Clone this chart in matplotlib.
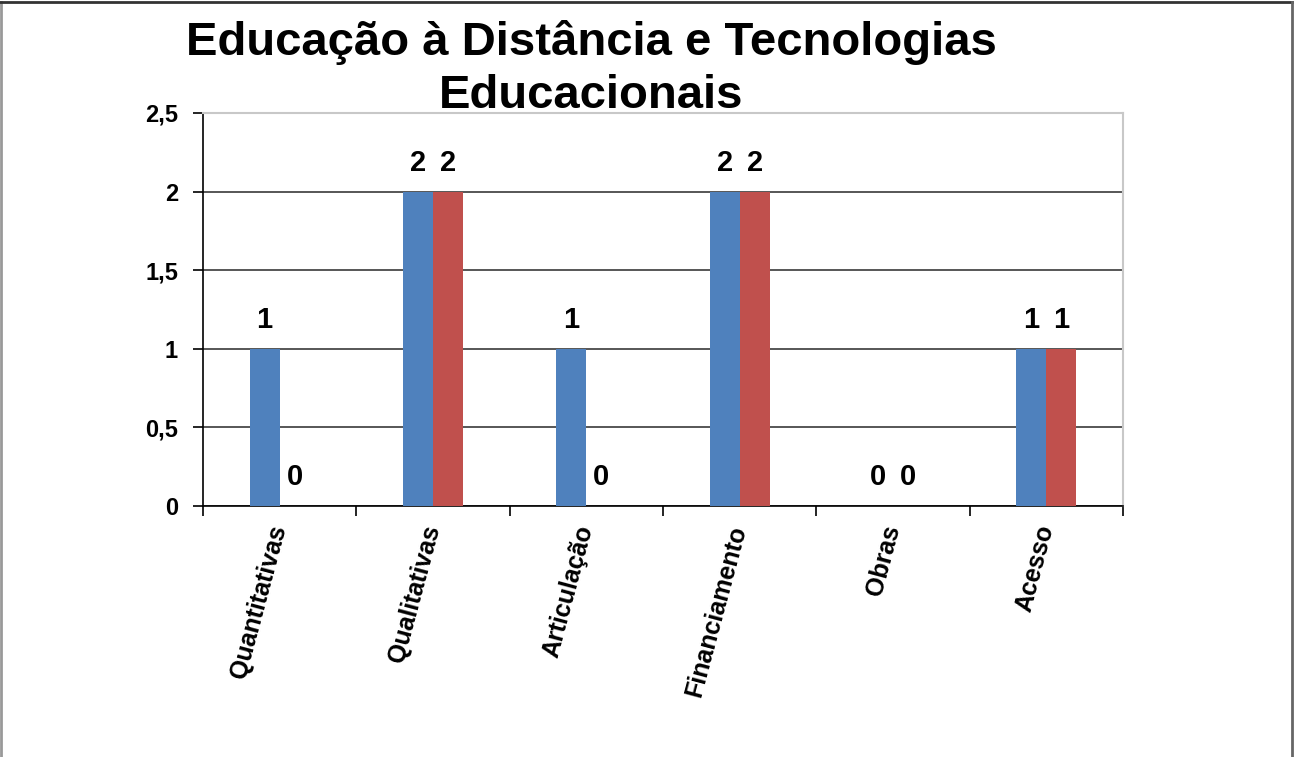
import numpy as np
import matplotlib
matplotlib.use('Agg')
import matplotlib.pyplot as plt
from matplotlib.lines import Line2D

plt.rcParams['font.family'] = ['Liberation Sans', 'DejaVu Sans']

categories = ['Quantitativas', 'Qualitativas', 'Articulação', 'Financiamento', 'Obras', 'Acesso']
serie_azul = [1, 2, 1, 2, 0, 1]
serie_vermelha = [0, 2, 0, 2, 0, 1]
yticks = [0, 0.5, 1, 1.5, 2, 2.5]
ytick_labels = ['0', '0,5', '1', '1,5', '2', '2,5']
title = 'Educação à Distância e Tecnologias\nEducacionais'

fig = plt.figure(figsize=(12.97, 7.57), dpi=100)
ax = fig.add_axes([203/1297, 1 - 506/757, (1123-203)/1297, (506-113)/757])

x = np.arange(len(categories))
w = 0.196
b1 = ax.bar(x - w/2, serie_azul, w, color='#4F81BD', zorder=3)
b2 = ax.bar(x + w/2, serie_vermelha, w, color='#C0504D', zorder=3)

for bars, vals in ((b1, serie_azul), (b2, serie_vermelha)):
    for r, v in zip(bars, vals):
        ax.annotate(str(v), (r.get_x() + r.get_width()/2, v), xytext=(0, 15),
                    textcoords='offset points', ha='center', va='baseline',
                    fontsize=21, fontweight='bold', color='black')

ax.set_xlim(-0.5, len(categories) - 0.5)
ax.set_ylim(0, 2.5)
ax.set_yticks(yticks)
ax.set_yticklabels(ytick_labels, fontsize=17, fontweight='bold')
ax.yaxis.grid(True, color='#3a3a3a', lw=1.2, zorder=0)

ax.set_xticks(x)
ax.set_xticklabels(categories, fontsize=18, fontweight='bold')
ax.set_xticks(np.arange(len(categories) + 1) - 0.5, minor=True)
ax.tick_params(axis='x', which='major', length=0, pad=14)
ax.tick_params(axis='x', which='minor', length=7, width=1.2, direction='out')
ax.tick_params(axis='y', length=7, width=1.2, direction='out', pad=11)
plt.setp(ax.get_xticklabels(), rotation=75, ha='right', va='center', rotation_mode='anchor')

for s in ('left', 'bottom'):
    ax.spines[s].set_color('black')
    ax.spines[s].set_linewidth(1.2)
for s in ('top', 'right'):
    ax.spines[s].set_color('#c8c8c8')
    ax.spines[s].set_linewidth(1.5)

fig.text(591/1297, 1 - 69/757, title, ha='center', va='center', fontsize=34,
         fontweight='bold', linespacing=1.25)

# moldura da figura
for xs, ys, c in (([0.001, 0.001], [0, 0.998], '#999999'),
                  ([0, 0.996], [0.998, 0.998], '#333333'),
                  ([0.996, 0.996], [0, 0.998], '#666666')):
    fig.add_artist(Line2D(xs, ys, transform=fig.transFigure, color=c, lw=2))

fig.savefig('out.png', dpi=100)
